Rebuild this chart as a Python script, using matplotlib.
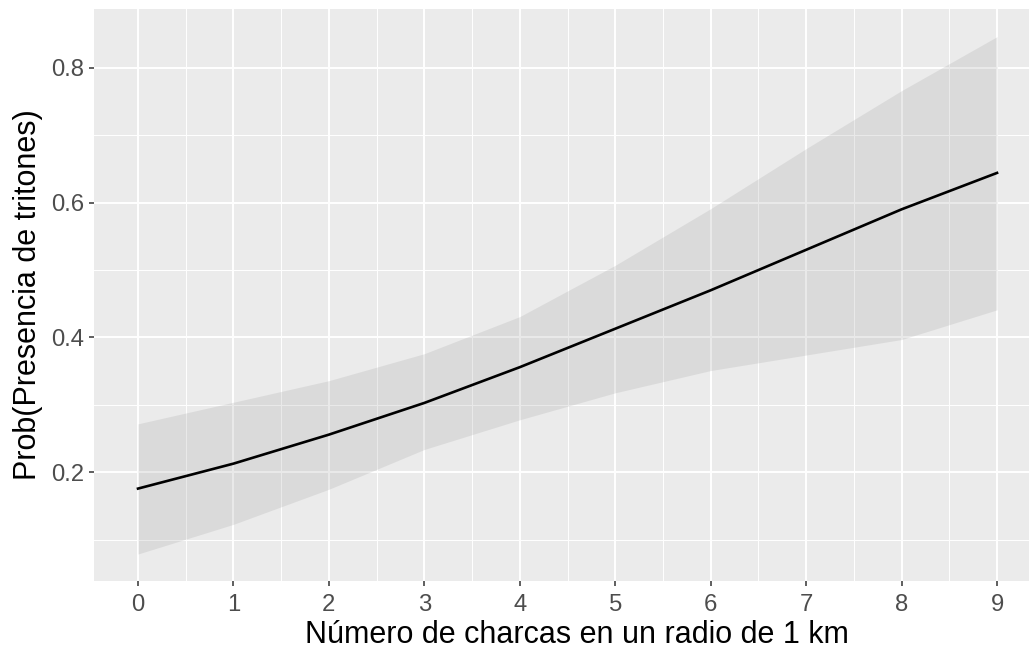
import matplotlib
matplotlib.use("Agg")
import matplotlib.pyplot as plt
from matplotlib.ticker import MultipleLocator

# Data
charcas = [0, 1, 2, 3, 4, 5, 6, 7, 8, 9]
prob = [0.176, 0.213, 0.256, 0.303, 0.356, 0.413, 0.470, 0.530, 0.590, 0.644]
upper = [0.272, 0.304, 0.336, 0.376, 0.431, 0.507, 0.591, 0.680, 0.766, 0.846]
lower = [0.079, 0.123, 0.175, 0.234, 0.278, 0.318, 0.351, 0.374, 0.397, 0.441]
xticks = [0, 1, 2, 3, 4, 5, 6, 7, 8, 9]
yticks = [0.2, 0.4, 0.6, 0.8]
xlabel = "Número de charcas en un radio de 1 km"
ylabel = "Prob(Presencia de tritones)"

plt.rcParams['font.family'] = ['Liberation Sans', 'DejaVu Sans']

fig = plt.figure(figsize=(10.29, 6.49), dpi=100)
ax = fig.add_axes([94/1029, 1 - 581/649, 1 - 94/1029, (581 - 9)/649])
ax.set_facecolor('#EBEBEB')
for s in ax.spines.values():
    s.set_visible(False)

ax.set_xlim(-0.461, 9.335)
ax.set_ylim(0.039, 0.887)

ax.xaxis.set_minor_locator(MultipleLocator(0.5))
ax.yaxis.set_minor_locator(MultipleLocator(0.1))
ax.set_xticks(xticks)
ax.set_yticks(yticks)
ax.set_yticklabels([f"{v:.1f}" for v in yticks])

ax.grid(which='major', color='white', linewidth=1.4)
ax.grid(which='minor', color='white', linewidth=0.7)
ax.set_axisbelow(True)

ax.tick_params(which='major', length=3.6, width=1.1, color='#333333',
               labelsize=17.2, labelcolor='#4D4D4D', pad=3.2)
ax.tick_params(axis='x', which='major', pad=5.6)
ax.tick_params(which='minor', length=0)

ax.fill_between(charcas, lower, upper, color='#999999', alpha=0.2, linewidth=0)
ax.plot(charcas, prob, color='black', linewidth=1.9)

ax.set_xlabel(xlabel, fontsize=22, color='black', labelpad=3)
ax.xaxis.label.set_x(0.517)
ax.set_ylabel(ylabel, fontsize=22, color='black', labelpad=6)

fig.savefig("out.png", dpi=100)
